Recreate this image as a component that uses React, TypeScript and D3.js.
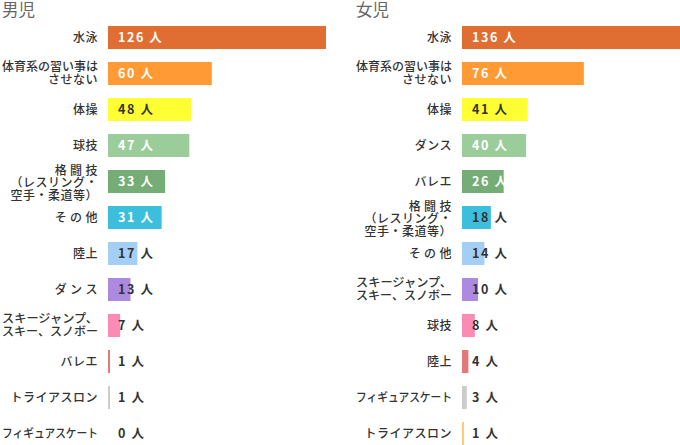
import React from "react";
import * as d3 from "d3";

const boysCategories = ["水泳", "体育系の習い事は|させない", "体操", "球技", "格\u2009闘\u2009技|（レスリング・|空手・柔道等）", "そ\u2009の\u2009他", "陸上", "ダ\u2009ン\u2009ス", "スキージャンプ、|スキー、スノボー", "バレエ", "トライアスロン", "フィギュアスケート"];
const boysValues = [126, 60, 48, 47, 33, 31, 17, 13, 7, 1, 1, 0];
const girlsCategories = ["水泳", "体育系の習い事は|させない", "体操", "ダンス", "バレエ", "格\u2009闘\u2009技|（レスリング・|空手・柔道等）", "そ\u2009の\u2009他", "スキージャンプ、|スキー、スノボー", "球技", "陸上", "フィギュアスケート", "トライアスロン"];
const girlsValues = [136, 76, 41, 40, 26, 18, 14, 10, 8, 4, 3, 1];
const rankColors = ["#e06e33", "#ff9a35", "#ffff33", "#9bcd9b", "#76ad76", "#3cbfdd", "#a3cff5", "#ab8ae0", "#f98bb4", "#e07a7a", "#cccccc", "#ffca74"];
const titles = ["男児", "女児"];

const W = 680, H = 445;
const FONT = "'Noto Sans CJK JP', sans-serif";
const MAXW = 96;

function Panel({ title, cats, vals, x0, x1 }: { title: string; cats: string[]; vals: number[]; x0: number; x1: number }) {
  const x = d3.scaleLinear().domain([0, d3.max(vals) as number]).range([x0, x1]);
  const yb = d3.scaleBand<number>().domain(d3.range(cats.length)).range([19.5, 19.5 + 36 * cats.length]).padding(0);
  return (
    <g>
      <text x={x0 - 106} y={16} fontSize={16.5} fill="#666" fontFamily={FONT}>{title}</text>
      {cats.map((c, i) => {
        const top = (yb(i) as number) + 6.5;
        const bh = 23;
        const cy = top + bh / 2;
        const bw = x(vals[i]) - x0;
        const label = `${vals[i]} 人`;
        const textW = String(vals[i]).length * 7 + 17;
        const inside = x0 + 10 + textW < x0 + bw && rankColors[i] !== "#ffff33";
        const lines = c.split("|");
        const lh = 12.5;
        const off = lines.length === 3 ? 1.5 : 0;
        return (
          <g key={i}>
            {vals[i] > 0 && <rect x={x0} y={top} width={Math.max(bw, 2)} height={bh} fill={rankColors[i]} />}
            {lines.map((l, j) => {
              const est = Array.from(l).length * 12.5;
              const fit = est > MAXW + 1;
              return (
                <text key={j} x={x0 - 10} y={cy + off + (j - (lines.length - 1) / 2) * lh} dy="0.35em" textAnchor="end" fontSize={12} fontWeight={500} fill="#333" fontFamily={FONT} letterSpacing={fit ? 0 : 0.5}
                  {...(fit ? { textLength: MAXW, lengthAdjust: "spacingAndGlyphs" } : {})}>{l}</text>
              );
            })}
            <text x={x0 + 10} y={cy} dy="0.36em" fontSize={12.5} fontWeight={700} letterSpacing={1.6} fill={inside ? "#fff" : "#333"} fontFamily={FONT}>{label}</text>
          </g>
        );
      })}
    </g>
  );
}

export default function App() {
  return (
    <svg width={W} height={H} style={{ position: "absolute", left: 0, top: 0, background: "#fff" }}>
      <Panel title={titles[0]} cats={boysCategories} vals={boysValues} x0={108} x1={326} />
      <Panel title={titles[1]} cats={girlsCategories} vals={girlsValues} x0={462} x1={680} />
    </svg>
  );
}
